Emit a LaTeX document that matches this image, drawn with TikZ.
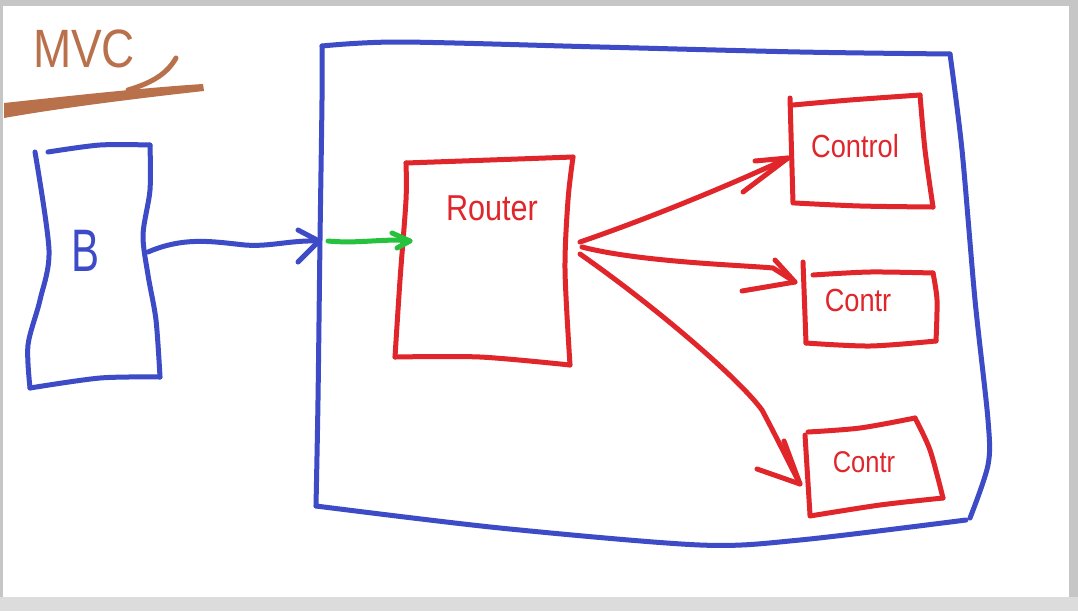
\documentclass[tikz,border=0pt]{standalone}
\usepackage{fontspec}
\setmainfont{Liberation Sans}
\definecolor{penblue}{HTML}{3D4CC6}
\definecolor{penred}{HTML}{E0262B}
\definecolor{pengreen}{HTML}{27C23D}
\definecolor{penbrown}{HTML}{B8714A}
\definecolor{framegray}{HTML}{C6C6C6}
\definecolor{bottomgray}{HTML}{DCDCDC}
\begin{document}
\begin{tikzpicture}[x=1pt,y=-1pt,
  pen/.style={line width=5pt,line cap=round,line join=round},
  bluepen/.style={pen,draw=penblue},
  redpen/.style={pen,draw=penred},
  greenpen/.style={pen,draw=pengreen},
  brownpen/.style={pen,draw=penbrown},
  lbl/.style={inner sep=0pt,anchor=center}]
\useasboundingbox (0,0) rectangle (1078,611);
% screen frame
\fill[framegray] (0,0) rectangle (1078,611);
\fill[bottomgray] (0,597) rectangle (1078,611);
\fill[white] (3,6) rectangle (1069,597);

% MVC title
\node[lbl,text=penbrown,font=\fontsize{54}{54}\selectfont,xscale=0.85] (mvc) at (84,49) {MVC};
\draw[brownpen] (128,90) .. controls (155,82) and (168,72) .. (176,58);
\fill[penbrown] (4,103) .. controls (60,97) and (140,88) .. (203,84)
  -- (204,91) .. controls (140,98) and (60,108) .. (4,118) -- cycle;

% B box
\draw[bluepen] plot[smooth] coordinates {(48,152) (100,145) (150,145)};
\draw[bluepen] plot[smooth] coordinates {(150,145) (150,190) (143,235) (148,275) (156,320) (160,377)};
\draw[bluepen] plot[smooth] coordinates {(160,377) (100,378) (30,388)};
\draw[bluepen] plot[smooth] coordinates {(30,388) (28,345) (40,300) (49,250) (35,152)};
\node[lbl,text=penblue,font=\fontsize{60}{60}\selectfont,xscale=0.7] (B) at (86,251) {B};

% big server box
\draw[bluepen] plot[smooth] coordinates {(322,46) (400,42) (600,47) (800,52) (950,54)};
\draw[bluepen] plot[smooth] coordinates {(950,54) (962,150) (975,300) (988,420) (988,465) (970,518)};
\draw[bluepen] plot[smooth] coordinates {(966,520) (800,540) (700,545) (500,528) (316,506)};
\draw[bluepen] plot[smooth] coordinates {(316,506) (318,400) (320,240) (322,100) (322,46)};

% Router box
\draw[redpen] plot[smooth] coordinates {(406,163) (490,160) (573,157)};
\draw[redpen] plot[smooth] coordinates {(573,157) (568,200) (565,270) (570,365)};
\draw[redpen] plot[smooth] coordinates {(570,365) (480,357) (395,357)};
\draw[redpen] plot[smooth] coordinates {(395,357) (400,280) (406,200) (406,163)};
\node[lbl,text=penred,font=\fontsize{36}{36}\selectfont,xscale=0.85] (router) at (492,208) {Router};

% Control box 1
\draw[redpen] (790,98) -- (793,203);
\draw[redpen] plot[smooth] coordinates {(793,105) (850,100) (920,95)};
\draw[redpen] plot[smooth] coordinates {(920,95) (925,150) (933,207)};
\draw[redpen] plot[smooth] coordinates {(933,207) (860,206) (795,203)};
\node[lbl,text=penred,font=\fontsize{32}{32}\selectfont,xscale=0.85] (c1) at (855,146) {Control};

% Control box 2
\draw[redpen] (803,262) -- (806,343);
\draw[redpen] plot[smooth] coordinates {(813,275) (870,272) (933,273)};
\draw[redpen] plot[smooth] coordinates {(933,273) (937,300) (936,341)};
\draw[redpen] plot[smooth] coordinates {(936,341) (870,346) (806,343)};
\node[lbl,text=penred,font=\fontsize{32}{32}\selectfont,xscale=0.85] (c2) at (858,300) {Contr};

% Control box 3
\draw[redpen] (805,435) -- (810,515);
\draw[redpen] plot[smooth] coordinates {(808,432) (860,428) (915,418)};
\draw[redpen] plot[smooth] coordinates {(915,418) (930,450) (943,498)};
\draw[redpen] plot[smooth] coordinates {(943,498) (880,505) (810,516)};
\node[lbl,text=penred,font=\fontsize{30}{30}\selectfont,xscale=0.85] (c3) at (864,462) {Contr};

% connector end points
\coordinate (bOut) at (148,252);
\coordinate (bigIn) at (319,241);
\coordinate (gStart) at (328,241);
\coordinate (routerIn) at (410,241);
\coordinate (rOut1) at (580,242);
\coordinate (rOut2) at (582,247);
\coordinate (rOut3) at (580,254);
\coordinate (c1In) at (788,158);
\coordinate (c2In) at (795,282);
\coordinate (c3In) at (800,484);

% B -> server
\draw[bluepen] (bOut) .. controls (185,236) and (215,242) .. (245,245)
  .. controls (270,247) and (290,240) .. (bigIn);
\draw[bluepen] (298,230) -- (bigIn) -- (298,262);

% server -> Router
\draw[greenpen] (gStart) .. controls (360,244) and (385,238) .. (routerIn);
\draw[greenpen] (392,233) -- (routerIn) -- (397,248);

% Router -> controllers
\draw[redpen] (rOut1) .. controls (650,218) and (730,185) .. (c1In);
\draw[redpen] (755,161) -- (c1In) -- (743,192);
\draw[redpen] (rOut2) .. controls (640,262) and (740,265) .. (773,268) -- (c2In);
\draw[redpen] (775,260) -- (c2In) -- (742,291);
\draw[redpen] (rOut3) .. controls (660,310) and (740,380) .. (762,410)
  .. controls (778,440) and (790,465) .. (c3In);
\draw[redpen] (784,441) -- (c3In) -- (757,469);
\end{tikzpicture}
\end{document}
